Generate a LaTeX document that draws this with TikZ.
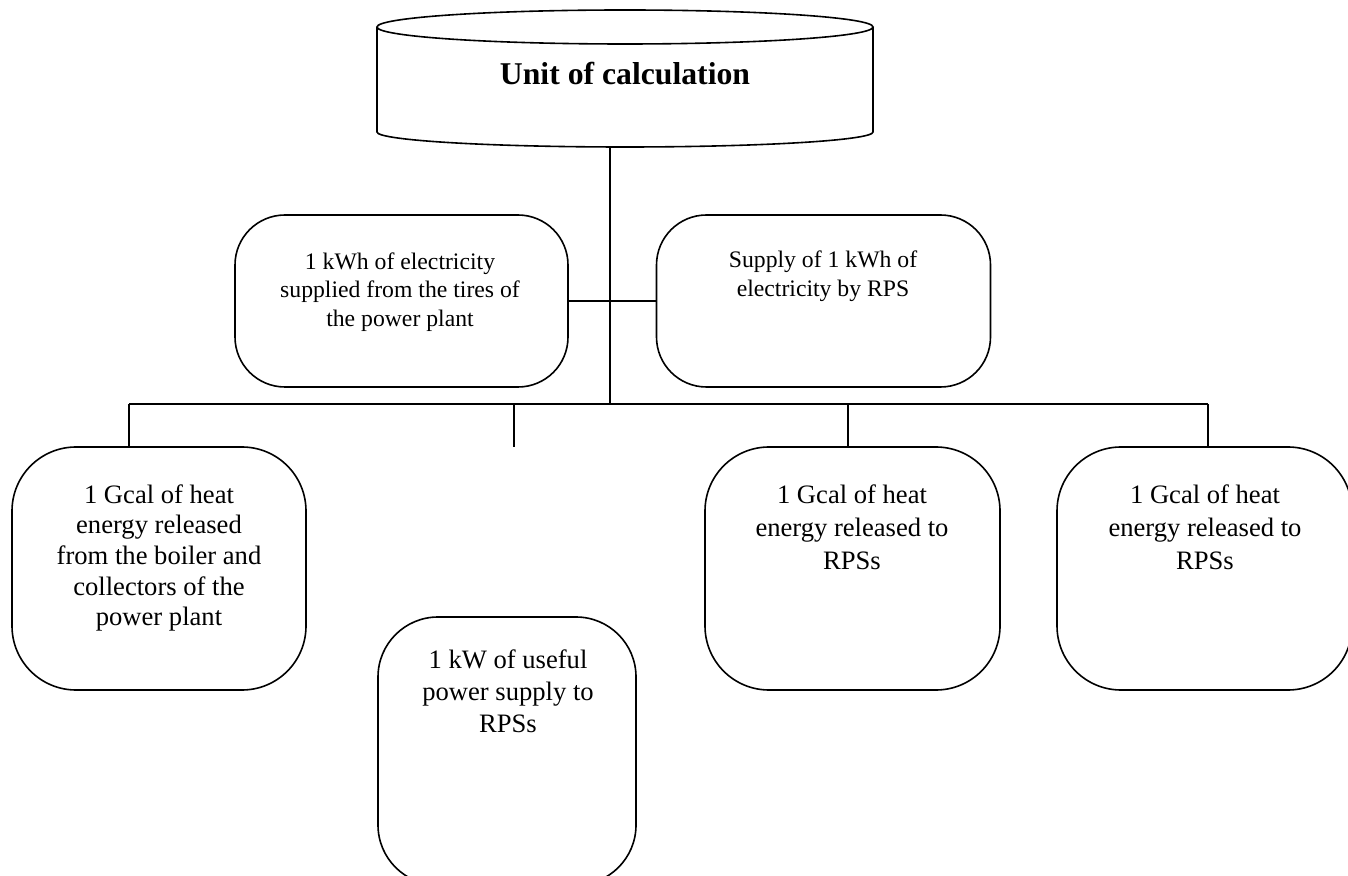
\documentclass[tikz,border=0pt]{standalone}
\usepackage{fontspec}
\setmainfont{Liberation Serif}
\begin{document}
\begin{tikzpicture}[x=0.5pt,y=-0.5pt,
  conn/.style={line width=0.8pt, black},
  rbox/.style={draw, line width=0.8pt, rectangle, inner sep=0pt, rounded corners=#1},
  rbox/.default=30pt,
  smalltxt/.style={align=center, inner sep=0pt, font=\fontsize{11.85}{14.25}\selectfont},
  bigtxt/.style={align=center, inner sep=0pt, font=\fontsize{13.3}{#1}\selectfont},
  bigtxt/.default=15.35pt,
  titletxt/.style={inner sep=0pt, font=\fontsize{15.85}{19}\selectfont\bfseries}
]
\clip (0,0) rectangle (1348,876);
\useasboundingbox (0,0) rectangle (1348,876);

% cylinder
\node[titletxt] (unit) at (625,74) {Unit of calculation};
\draw[conn] (625,27) ellipse [x radius=124pt, y radius=8.5pt];
\draw[conn] (377,27) -- (377,132) arc [start angle=180, end angle=360, x radius=124pt, y radius=7.5pt] -- (873,27);
\coordinate (unitbot) at (610,147);

% boxes
\node[rbox=25pt, minimum width=166.5pt, minimum height=86pt] (b2) at (401.5,301) {};
\node[rbox=25pt, minimum width=167pt, minimum height=86pt] (b3) at (823.5,301) {};
\node[rbox=32pt, minimum width=147pt, minimum height=121.5pt] (b4) at (159,568.5) {};
\node[rbox=32pt, minimum width=147.5pt, minimum height=121.5pt] (b5) at (852.5,568.5) {};
\node[rbox=32pt, minimum width=147.5pt, minimum height=121.5pt] (b6) at (1204.5,568.5) {};
\node[rbox=30pt, minimum width=129pt, minimum height=134pt] (b7) at (507,751) {};

% texts
\node[smalltxt] (t2) at (400,292) {1 kWh of electricity\\supplied from the tires of\\the power plant};
\node[smalltxt] (t3) at (823,276) {Supply of 1 kWh of\\electricity by RPS};
\node[bigtxt] (t4) at (159,558) {1 Gcal of heat\\energy released\\from the boiler and\\collectors of the\\power plant};
\node[bigtxt=16.5pt] (t5) at (852,527) {1 Gcal of heat\\energy released to\\RPSs};
\node[bigtxt=16.5pt] (t6) at (1205,527) {1 Gcal of heat\\energy released to\\RPSs};
\node[bigtxt=16pt] (t7) at (508,691) {1 kW of useful\\power supply to\\RPSs};

% connectors
\coordinate (hub) at (610,404);
\coordinate (d4) at (129,404);
\coordinate (d6) at (1208,404);
\coordinate (d5) at (848,404);
\coordinate (dfa) at (514,404);
\coordinate (dfb) at (514,447);

\draw[conn] (unitbot) -- (hub);
\draw[conn] (b2.east) -- (b3.west);
\draw[conn] (d4) -- (d6);
\draw[conn] (d4) -- (d4 |- b4.north);
\draw[conn] (d5) -- (d5 |- b5.north);
\draw[conn] (d6) -- (d6 |- b6.north);
\draw[conn] (dfa) -- (dfb);
\end{tikzpicture}
\end{document}
